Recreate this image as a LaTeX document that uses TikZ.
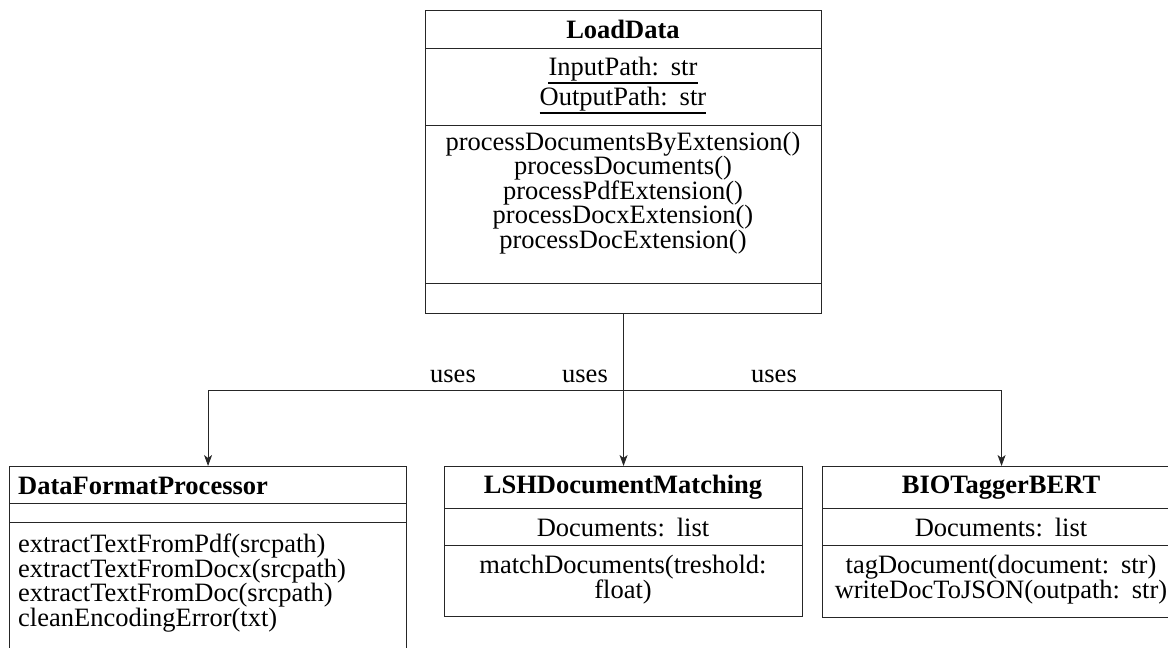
\documentclass[tikz,border=0pt]{standalone}
\usepackage{fontspec}
\setmainfont{Liberation Serif}
\usetikzlibrary{arrows.meta}
\newcommand{\csp}{\hspace{0.45em}}
\begin{document}
\begin{tikzpicture}[x=1pt,y=-1pt,
  every node/.style={font=\fontsize{26.5pt}{25pt}\selectfont},
  comp/.style 2 args={draw=black!85, line width=1.1pt, rectangle, inner sep=0pt,
    anchor=north west, minimum width=#1, minimum height=#2},
  ltxt/.style={inner sep=0pt, anchor=base},
  btxt/.style={inner sep=0pt, anchor=base, font=\fontsize{26.5pt}{25pt}\selectfont\bfseries},
  lbl/.style={inner sep=0pt, anchor=base},
  uline/.style={line width=1.8pt, black},
  assoc/.style={draw=black!85, line width=0.9pt, -{Stealth[length=11pt,width=8pt,inset=3pt]}}
]
\useasboundingbox (0,0) rectangle (1168,648);
\clip (0,0) rectangle (1168,648);

% LoadData
\node[comp={396pt}{38pt}]  (ld-h) at (425,10) {};
\node[comp={396pt}{77pt}]  (ld-a) at (425,48) {};
\node[comp={396pt}{158pt}] (ld-m) at (425,125) {};
\node[comp={396pt}{30pt}]  (ld-e) at (425,283) {};
\node[btxt] (ld-name) at (623,38) {LoadData};
\node[ltxt] (ld-a1) at (623,75.5) {InputPath:\csp str};
\node[ltxt] (ld-a2) at (623,105) {OutputPath:\csp str};
\draw[uline] ([yshift=-7.5pt]ld-a1.base west) -- ([yshift=-7.5pt]ld-a1.base east);
\draw[uline] ([yshift=-8pt]ld-a2.base west) -- ([yshift=-8pt]ld-a2.base east);
\node[ltxt] (ld-m1) at (623,150) {processDocumentsByExtension()};
\node[ltxt] (ld-m2) at (623,174.5) {processDocuments()};
\node[ltxt] (ld-m3) at (623,199) {processPdfExtension()};
\node[ltxt] (ld-m4) at (623,223.5) {processDocxExtension()};
\node[ltxt] (ld-m5) at (623,248) {processDocExtension()};

% DataFormatProcessor
\node[comp={397pt}{37pt}]  (dfp-h) at (9,466) {};
\node[comp={397pt}{19pt}]  (dfp-a) at (9,503) {};
\node[comp={397pt}{150pt}] (dfp-m) at (9,522) {};
\node[btxt, anchor=base west] (dfp-name) at (18,494) {DataFormatProcessor};
\node[ltxt, anchor=base west] (dfp-m1) at (18,552.5) {extractTextFromPdf(srcpath)};
\node[ltxt, anchor=base west] (dfp-m2) at (18,577) {extractTextFromDocx(srcpath)};
\node[ltxt, anchor=base west] (dfp-m3) at (18,601.5) {extractTextFromDoc(srcpath)};
\node[ltxt, anchor=base west] (dfp-m4) at (18,626) {cleanEncodingError(txt)};

% LSHDocumentMatching
\node[comp={358pt}{42pt}] (lsh-h) at (444,466) {};
\node[comp={358pt}{37pt}] (lsh-a) at (444,508) {};
\node[comp={358pt}{71pt}] (lsh-m) at (444,545) {};
\node[btxt] (lsh-name) at (623,493) {LSHDocumentMatching};
\node[ltxt] (lsh-a1) at (623,536) {Documents:\csp list};
\node[ltxt] (lsh-m1) at (623,573.5) {matchDocuments(treshold:};
\node[ltxt] (lsh-m2) at (623,598) {float)};

% BIOTaggerBERT
\node[comp={358pt}{42pt}] (bio-h) at (822,466) {};
\node[comp={358pt}{37pt}] (bio-a) at (822,508) {};
\node[comp={358pt}{72pt}] (bio-m) at (822,545) {};
\node[btxt] (bio-name) at (1001,493) {BIOTaggerBERT};
\node[ltxt] (bio-a1) at (1001,536) {Documents:\csp list};
\node[ltxt] (bio-m1) at (1001,573.5) {tagDocument(document:\csp str)};
\node[ltxt] (bio-m2) at (1001,598) {writeDocToJSON(outpath:\csp str)};

% connectors
\draw[assoc] (ld-e.south) -- ++(0,76) -| (dfp-h.north);
\draw[assoc] (ld-e.south) -- (lsh-h.north);
\draw[assoc] (ld-e.south) -- ++(0,76) -| (bio-h.north);
\node[lbl] (u1) at (453,382) {uses};
\node[lbl] (u2) at (585,382) {uses};
\node[lbl] (u3) at (774,382) {uses};
\end{tikzpicture}
\end{document}
